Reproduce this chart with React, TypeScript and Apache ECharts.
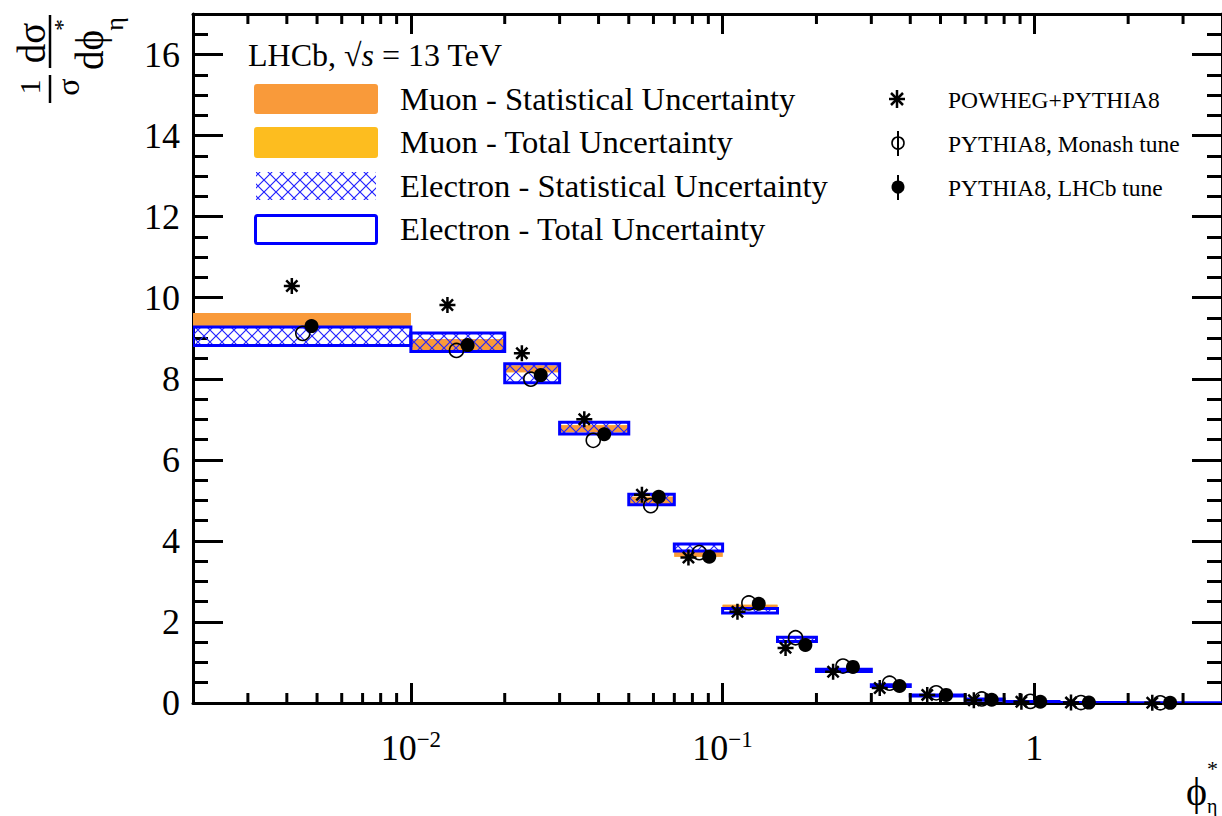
import React, { useEffect, useRef } from 'react';
import * as echarts from 'echarts';

// ---- data ----
const binEdges = [0, 0.01, 0.02, 0.03, 0.05, 0.07, 0.1, 0.15, 0.2, 0.3, 0.4, 0.6, 0.8, 1.2, 2.0, 4.0];

const muonCentral = [9.46, 8.82, 8.245, 6.765, 4.995, 3.67, 2.38, 1.62, 0.81, 0.43, 0.19, 0.085, 0.035, 0.010, 0.004];
const muonStatErr = [0.16, 0.16, 0.085, 0.085, 0.095, 0.06, 0.045, 0.02, 0.02, 0.015, 0.01, 0.01, 0.004, 0.002, 0.001];
const muonTotalErr = [0.16, 0.16, 0.085, 0.085, 0.095, 0.06, 0.045, 0.02, 0.02, 0.015, 0.01, 0.01, 0.004, 0.002, 0.001];

const elecCentral = [9.05, 8.90, 8.135, 6.785, 5.02, 3.835, 2.275, 1.57, 0.805, 0.43, 0.185, 0.085, 0.035, 0.010, 0.004];
const elecTotalErr = [0.23, 0.23, 0.235, 0.145, 0.13, 0.085, 0.055, 0.05, 0.025, 0.02, 0.015, 0.015, 0.005, 0.002, 0.001];
const elecStatErr = [0.22, 0.22, 0.225, 0.14, 0.125, 0.08, 0.05, 0.045, 0.02, 0.016, 0.012, 0.012, 0.004, 0.0015, 0.0008];

const powhegX = [0.00415, 0.0131, 0.0227, 0.0360, 0.0551, 0.0777, 0.1116, 0.1592, 0.2262, 0.3192, 0.4534, 0.6397, 0.909, 1.311, 2.39];
const powhegY = [10.29, 9.82, 8.63, 7.0, 5.14, 3.59, 2.25, 1.36, 0.77, 0.37, 0.2, 0.07, 0.03, 0.01, 0.004];

const monashX = [0.0045, 0.0140, 0.02425, 0.03846, 0.0588, 0.0842, 0.1214, 0.1714, 0.2433, 0.3433, 0.4844, 0.6785, 0.971, 1.411, 2.535];
const monashY = [9.12, 8.70, 7.99, 6.48, 4.87, 3.71, 2.47, 1.61, 0.91, 0.49, 0.25, 0.10, 0.04, 0.012, 0.005];

const lhcbX = [0.0048, 0.0152, 0.0261, 0.0417, 0.0624, 0.0906, 0.1306, 0.1843, 0.2619, 0.3694, 0.5212, 0.7299, 1.045, 1.496, 2.727];
const lhcbY = [9.30, 8.83, 8.09, 6.63, 5.09, 3.61, 2.45, 1.43, 0.89, 0.42, 0.20, 0.08, 0.03, 0.01, 0.004];

const xMinorTicks = [0.003, 0.004, 0.005, 0.006, 0.007, 0.008, 0.009,
  0.02, 0.03, 0.04, 0.05, 0.06, 0.07, 0.08, 0.09,
  0.2, 0.3, 0.4, 0.5, 0.6, 0.7, 0.8, 0.9, 2, 3];

const X_MIN = 0.002;
const X_MAX = 4;
const Y_MIN = 0;
const Y_MAX = 17;

const FONT = 'Liberation Serif';
const ORANGE = '#F99A3A';
const YELLOW = '#FDBD1F';
const BLUE = '#0000FF';
const ASTERISK = 'path://M10,0L10,20M0,10L20,10M3,3L17,17M3,17L17,3';

export default function App() {
  const ref = useRef<HTMLDivElement>(null);
  useEffect(() => {
    const el = ref.current!;
    const chart = echarts.init(el, null, { renderer: 'svg' });

    const cv = document.createElement('canvas');
    cv.width = 12;
    cv.height = 12;
    const ctx = cv.getContext('2d')!;
    ctx.strokeStyle = '#2222ff';
    ctx.lineWidth = 1.2;
    ctx.beginPath();
    ctx.moveTo(0, 0); ctx.lineTo(12, 12);
    ctx.moveTo(12, 0); ctx.lineTo(0, 12);
    ctx.stroke();
    const hatch: any = { image: cv, repeat: 'repeat' };

    const bandData = (c: number[], e: number[]) =>
      c.map((v, i) => [Math.max(binEdges[i], X_MIN), binEdges[i + 1], v - e[i], v + e[i]]);

    const band = (name: string, data: number[][], style: any, z: number) => ({
      type: 'custom',
      name,
      z,
      silent: true,
      clip: true,
      data,
      encode: { x: [0, 1], y: [2, 3] },
      renderItem: (_p: any, api: any) => {
        const a = api.coord([api.value(0), api.value(3)]);
        const b = api.coord([api.value(1), api.value(2)]);
        return {
          type: 'rect',
          shape: { x: a[0], y: a[1], width: b[0] - a[0], height: b[1] - a[1] },
          style,
        };
      },
    });

    const rtext = (x: number, y: number, text: string, size: number) => ({
      type: 'text',
      x, y,
      rotation: Math.PI / 2,
      style: { text, fontFamily: FONT, fontSize: size, fill: '#000', align: 'center', verticalAlign: 'middle' },
    });

    const legText = (x: number, y: number, text: string, size: number) => ({
      type: 'text',
      x, y,
      style: { text, fontFamily: FONT, fontSize: size, fill: '#000', align: 'left', verticalAlign: 'middle' },
    });

    const graphic: any[] = [
      // y axis title
      rtext(29, 87, '1', 30),
      { type: 'line', shape: { x1: 50, y1: 75, x2: 50, y2: 103 }, style: { stroke: '#000', lineWidth: 2.5 } },
      rtext(68, 87, 'σ', 32),
      rtext(31, 43, 'dσ', 39),
      { type: 'line', shape: { x1: 50, y1: 15, x2: 50, y2: 68 }, style: { stroke: '#000', lineWidth: 2.5 } },
      rtext(89, 50, 'dϕ', 39),
      rtext(62, 25, '*', 24),
      rtext(114, 24, 'η', 26),
      // x axis title
      legText(1186, 791, 'ϕ', 40),
      legText(1207, 768, '*', 22),
      legText(1207, 806, 'η', 20),
      // header
      {
        type: 'text', x: 248, y: 55,
        style: {
          text: 'LHCb, {r|√}{i|s} = 13 TeV',
          fontFamily: FONT, fontSize: 32, fill: '#000', align: 'left', verticalAlign: 'middle',
          rich: {
            r: { fontFamily: FONT, fontSize: 32, fill: '#000' },
            i: { fontFamily: FONT, fontSize: 32, fontStyle: 'italic', fill: '#000' },
          },
        },
      },
      // left legend
      { type: 'rect', shape: { x: 254, y: 84, width: 124, height: 30, r: 3 }, style: { fill: ORANGE } },
      legText(400, 99, 'Muon - Statistical Uncertainty', 32.6),
      { type: 'rect', shape: { x: 254, y: 127, width: 124, height: 31, r: 3 }, style: { fill: YELLOW } },
      legText(400, 142, 'Muon - Total Uncertainty', 32.6),
      { type: 'rect', shape: { x: 256, y: 172, width: 120, height: 28 }, style: { fill: hatch } },
      legText(400, 186, 'Electron - Statistical Uncertainty', 32.6),
      { type: 'rect', shape: { x: 255.5, y: 215.5, width: 121, height: 28, r: 2 }, style: { fill: '#fff', stroke: BLUE, lineWidth: 3 } },
      legText(400, 229, 'Electron - Total Uncertainty', 32.6),
      // right legend
      { type: 'line', shape: { x1: 897, y1: 90, x2: 897, y2: 108 }, style: { stroke: '#000', lineWidth: 2.5 } },
      { type: 'line', shape: { x1: 889, y1: 99, x2: 905, y2: 99 }, style: { stroke: '#000', lineWidth: 2.5 } },
      { type: 'line', shape: { x1: 891, y1: 93, x2: 903, y2: 105 }, style: { stroke: '#000', lineWidth: 2.5 } },
      { type: 'line', shape: { x1: 891, y1: 105, x2: 903, y2: 93 }, style: { stroke: '#000', lineWidth: 2.5 } },
      legText(948, 100, 'POWHEG+PYTHIA8', 23.5),
      { type: 'line', shape: { x1: 898, y1: 131, x2: 898, y2: 156 }, style: { stroke: '#000', lineWidth: 2 } },
      { type: 'circle', shape: { cx: 898, cy: 143, r: 6 }, style: { fill: 'none', stroke: '#000', lineWidth: 1.6 } },
      legText(948, 144, 'PYTHIA8, Monash tune', 23.5),
      { type: 'line', shape: { x1: 898, y1: 175, x2: 898, y2: 200 }, style: { stroke: '#000', lineWidth: 2 } },
      { type: 'circle', shape: { cx: 898, cy: 187, r: 6.5 }, style: { fill: '#000' } },
      legText(948, 188, 'PYTHIA8, LHCb tune', 23.5),
    ];

    const axisCommon = {
      axisLine: { show: true, onZero: false, lineStyle: { color: '#000', width: 3 } },
      splitLine: { show: false },
    };

    const option: any = {
      animation: false,
      backgroundColor: '#fff',
      grid: { left: 193, right: -8, top: 14, bottom: 113, containLabel: false },
      xAxis: [
        {
          type: 'log', logBase: 10, min: X_MIN, max: X_MAX, position: 'bottom',
          ...axisCommon,
          axisTick: { show: true, inside: true, length: 20, lineStyle: { color: '#000', width: 3 } },
          axisLabel: {
            show: true, margin: 25, showMinLabel: false, showMaxLabel: false,
            fontFamily: FONT, fontSize: 36, color: '#000',
            formatter: (v: number) => {
              const l = Math.log10(v);
              if (Math.abs(l - Math.round(l)) > 1e-6) return '';
              const n = Math.round(l);
              if (n === 0) return '{b|1}';
              return `{b|10}{s|${n < 0 ? '−' : ''}${Math.abs(n)}}`;
            },
            rich: {
              b: { fontFamily: FONT, fontSize: 36, color: '#000', lineHeight: 38, verticalAlign: 'bottom' },
              s: { fontFamily: FONT, fontSize: 23, color: '#000', lineHeight: 38, verticalAlign: 'top' },
            },
          },
        },
        {
          type: 'log', logBase: 10, min: X_MIN, max: X_MAX, position: 'top',
          ...axisCommon,
          axisTick: { show: true, inside: true, length: 20, lineStyle: { color: '#000', width: 3 } },
          axisLabel: { show: false },
        },
      ],
      yAxis: [
        {
          type: 'value', min: Y_MIN, max: Y_MAX, interval: 2, position: 'left',
          ...axisCommon,
          axisTick: { show: true, inside: true, length: 30, lineStyle: { color: '#000', width: 3 } },
          minorTick: { show: true, splitNumber: 4, length: 15, lineStyle: { color: '#000', width: 3 } },
          axisLabel: { show: true, margin: 13, showMaxLabel: false, fontFamily: FONT, fontSize: 36, color: '#000' },
        },
        {
          type: 'value', min: Y_MIN, max: Y_MAX, interval: 2, position: 'right',
          ...axisCommon,
          axisTick: { show: true, inside: true, length: 30, lineStyle: { color: '#000', width: 3 } },
          minorTick: { show: true, splitNumber: 4, length: 15, lineStyle: { color: '#000', width: 3 } },
          axisLabel: { show: false },
        },
      ],
      graphic,
      series: [
        band('Muon - Total Uncertainty', bandData(muonCentral, muonTotalErr), { fill: YELLOW }, 1),
        band('Muon - Statistical Uncertainty', bandData(muonCentral, muonStatErr), { fill: ORANGE }, 2),
        band('Electron - Statistical Uncertainty', bandData(elecCentral, elecStatErr), { fill: hatch }, 3),
        band('Electron - Total Uncertainty', bandData(elecCentral, elecTotalErr), { fill: 'none', stroke: BLUE, lineWidth: 3 }, 4),
        {
          type: 'custom', name: 'minor ticks', z: 20, silent: true, clip: false,
          data: xMinorTicks.map((v) => [v, 0]),
          encode: { x: 0, y: 1 },
          renderItem: (_p: any, api: any) => {
            const v = api.value(0);
            const b = api.coord([v, Y_MIN]);
            const t = api.coord([v, Y_MAX]);
            return {
              type: 'group',
              children: [
                { type: 'line', shape: { x1: b[0], y1: b[1], x2: b[0], y2: b[1] - 10 }, style: { stroke: '#000', lineWidth: 3 } },
                { type: 'line', shape: { x1: t[0], y1: t[1], x2: t[0], y2: t[1] + 10 }, style: { stroke: '#000', lineWidth: 3 } },
              ],
            };
          },
        },
        {
          type: 'scatter', name: 'POWHEG+PYTHIA8', z: 10, symbol: ASTERISK, symbolSize: 16,
          itemStyle: { color: '#000', borderColor: '#000', borderWidth: 2.5, opacity: 1 },
          data: powhegX.map((x, i) => [x, powhegY[i]]),
        },
        {
          type: 'scatter', name: 'PYTHIA8, Monash tune', z: 11, symbol: 'circle', symbolSize: 14,
          itemStyle: { color: 'rgba(0,0,0,0)', borderColor: '#000', borderWidth: 1.6, opacity: 1 },
          data: monashX.map((x, i) => [x, monashY[i]]),
        },
        {
          type: 'scatter', name: 'PYTHIA8, LHCb tune', z: 12, symbol: 'circle', symbolSize: 14,
          itemStyle: { color: '#000', opacity: 1 },
          data: lhcbX.map((x, i) => [x, lhcbY[i]]),
        },
      ],
    };

    chart.setOption(option);
    return () => chart.dispose();
  }, []);
  return <div ref={ref} style={{ position: 'fixed', left: 0, top: 0, width: 1222, height: 816 }} />;
}
